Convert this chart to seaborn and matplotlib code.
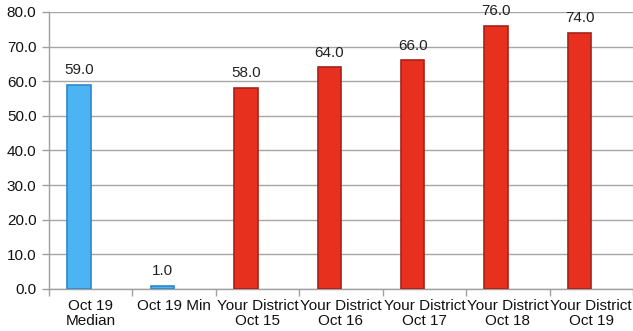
import matplotlib
matplotlib.use("Agg")
import matplotlib.pyplot as plt
import seaborn as sns
import numpy as np
import pandas as pd

categories = ["Oct 19\nMedian", "Oct 19 Min", "Your District\nOct 15", "Your District\nOct 16",
              "Your District\nOct 17", "Your District\nOct 18", "Your District\nOct 19"]
values = [59.0, 1.0, 58.0, 64.0, 66.0, 76.0, 74.0]
groups = ["State", "State", "District", "District", "District", "District", "District"]
y_ticks = [0, 10, 20, 30, 40, 50, 60, 70, 80]

face = {"State": "#4DB4F4", "District": "#E8301F"}
edge = {"State": "#2F88C8", "District": "#A8221A"}

sns.set_style("white")
plt.rcParams["font.family"] = ["Liberation Sans", "DejaVu Sans"]

df = pd.DataFrame({"category": categories, "value": values, "group": groups})

fig = plt.figure(figsize=(6.33, 3.31), dpi=100)
ax = fig.add_axes([0.0774, 0.127, 0.9226, 0.8369])

bar_w = 0.28
sns.barplot(data=df, x="category", y="value", hue="group", palette=face,
            dodge=False, width=bar_w, saturation=1, legend=False, ax=ax, zorder=3)

# bars sit in the left slot of each category
for patch, g in zip(ax.patches, groups):
    patch.set_x(patch.get_x() - 0.14)
    patch.set_edgecolor(edge[g])
    patch.set_linewidth(1.2)

for v, patch in zip(values, ax.patches):
    cx = patch.get_x() + patch.get_width() / 2
    ax.annotate(f"{v:.1f}", (cx, v), xytext=(0, 5.5), textcoords="offset points",
                ha="center", va="bottom", fontsize=11, color="#222222")

ax.set_ylim(0, 80)
ax.set_yticks(y_ticks)
ax.set_yticklabels([f"{t:.1f}" for t in y_ticks])
ax.set_xlim(-0.5, len(categories) - 0.5)
ax.set_xlabel("")
ax.set_ylabel("")

ax.yaxis.grid(True, color="#A6A6A6", linewidth=1.0, zorder=0)
ax.set_axisbelow(True)

for side in ["top", "right"]:
    ax.spines[side].set_visible(False)
for side in ["left", "bottom"]:
    ax.spines[side].set_color("#A0A0A0")
    ax.spines[side].set_linewidth(1.0)

ax.tick_params(axis="y", length=5, width=1, color="#A0A0A0", pad=4,
               labelsize=11, labelcolor="#111111", left=True)
ax.tick_params(axis="x", which="major", length=0, pad=7,
               labelsize=11, labelcolor="#111111")
ax.set_xticks(np.arange(len(categories) + 1) - 0.5, minor=True)
ax.tick_params(axis="x", which="minor", length=5, width=1, color="#A0A0A0", bottom=True)
for lbl in ax.get_xticklabels():
    lbl.set_linespacing(1.15)

fig.savefig("out.png", dpi=100)
